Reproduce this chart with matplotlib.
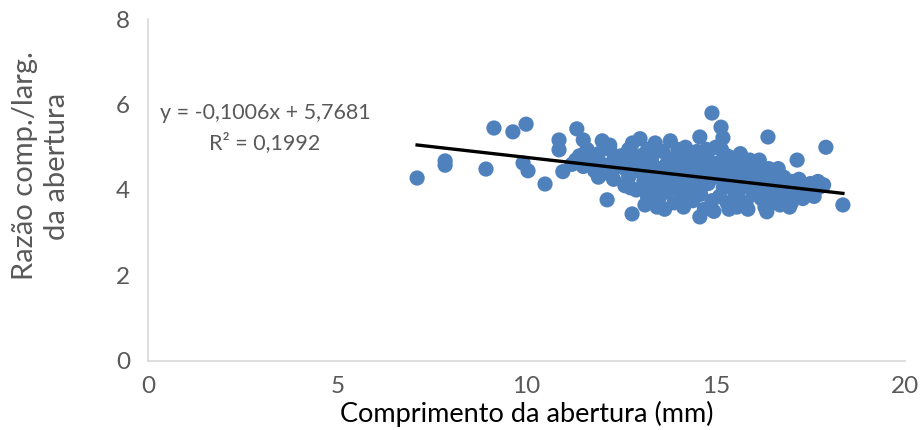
import matplotlib
matplotlib.use('Agg')
import matplotlib.pyplot as plt
import numpy as np

# Comprimento da abertura (mm) vs razao comp./larg.
x_vals = [7.11, 7.85, 7.85, 8.93, 9.14, 9.64, 9.99, 9.91, 10.04, 10.49, 10.86, 10.86,
          10.96, 11.33, 11.5, 12.13, 12.79, 13.13, 13.2, 14.9, 15.14, 15.19, 14.58, 16.38,
          17.91, 17.15, 18.36, 14.58, 16.35, 15.56, 17.75, 17.4,
          11.2, 11.4, 11.5, 11.6, 11.7, 11.8, 11.3,
          11.9, 12.0, 12.0, 12.1, 12.2, 12.3, 12.3, 12.4, 12.5, 12.2, 11.9,
          12.6, 12.6, 12.7, 12.7, 12.8, 12.8, 12.9, 12.9, 13.0, 13.0, 12.75,
          13.1, 13.1, 13.2, 13.2, 13.3, 13.3, 13.4, 13.4, 13.5, 13.5, 13.35, 13.45,
          13.6, 13.6, 13.7, 13.7, 13.8, 13.8, 13.9, 13.9, 14.0, 14.0, 13.65, 13.85, 13.95,
          14.1, 14.1, 14.2, 14.2, 14.3, 14.3, 14.4, 14.4, 14.5, 14.5, 14.15, 14.35, 14.45,
          14.6, 14.6, 14.7, 14.7, 14.8, 14.8, 14.9, 14.9, 15.0, 15.0, 14.65, 14.85, 14.95, 14.75,
          15.1, 15.1, 15.2, 15.2, 15.3, 15.3, 15.4, 15.4, 15.5, 15.5, 15.15, 15.35, 15.45, 15.25,
          15.6, 15.6, 15.7, 15.7, 15.8, 15.8, 15.9, 15.9, 16.0, 16.0, 15.65, 15.85, 15.95,
          16.1, 16.1, 16.2, 16.2, 16.3, 16.3, 16.4, 16.4, 16.5, 16.5, 16.15, 16.45,
          16.6, 16.6, 16.7, 16.7, 16.8, 16.8, 16.9, 16.9, 17.0, 16.65, 16.95,
          17.1, 17.1, 17.2, 17.3, 17.3, 17.5, 17.6, 17.7, 17.0, 17.85]
y_vals = [4.28, 4.68, 4.58, 4.49, 5.45, 5.36, 5.54, 4.63, 4.45, 4.14, 5.17, 4.94,
          4.43, 5.43, 5.17, 3.77, 3.44, 3.65, 3.84, 5.80, 5.47, 5.22, 5.24, 5.24,
          5.0, 4.70, 3.65, 3.37, 3.49, 3.6, 4.07, 3.88,
          4.6, 4.8, 4.55, 4.95, 4.7, 4.45, 4.7,
          4.85, 5.15, 4.6, 4.4, 4.95, 4.7, 4.25, 4.55, 4.8, 5.05, 4.3,
          4.1, 4.5, 4.95, 4.3, 5.1, 4.65, 4.0, 4.45, 5.2, 4.8, 4.05,
          4.55, 4.2, 4.95, 3.95, 4.7, 4.35, 5.1, 4.1, 4.5, 3.8, 4.85, 3.6,
          4.9, 4.25, 4.6, 3.95, 5.15, 4.4, 4.75, 3.7, 4.2, 4.95, 3.55, 4.05, 4.5,
          4.65, 3.9, 4.35, 5.0, 4.1, 4.8, 3.75, 4.5, 4.25, 4.9, 3.6, 4.6, 4.0,
          4.7, 3.9, 4.45, 3.55, 4.15, 4.9, 3.75, 4.55, 4.3, 5.0, 4.1, 4.65, 3.5, 4.95,
          4.65, 3.85, 4.4, 4.05, 4.8, 3.7, 4.2, 4.6, 3.95, 4.45, 4.95, 3.55, 4.75, 4.25,
          4.3, 3.8, 4.6, 4.05, 3.7, 4.4, 4.15, 4.7, 3.9, 4.35, 4.85, 3.55, 4.5,
          4.6, 4.1, 3.8, 4.4, 4.25, 3.6, 4.5, 3.95, 4.2, 3.7, 4.7, 4.35,
          4.4, 3.85, 4.1, 3.65, 4.3, 3.95, 4.05, 3.75, 4.2, 4.5, 3.6,
          3.9, 4.15, 4.25, 3.8, 4.05, 4.15, 3.85, 4.2, 3.7, 4.12]

slope = -0.1006
intercept = 5.7681
r2 = 0.1992

x_ticks = [0, 5, 10, 15, 20]
y_ticks = [0, 2, 4, 6, 8]

grey = '#595959'
font = 'Lato'

fig = plt.figure(figsize=(9.21, 4.30), dpi=100)
ax = fig.add_axes([0.1607, 0.1605, 0.8219, 0.7953])

ax.scatter(x_vals, y_vals, s=120, color='#4F81BD', edgecolors='none', zorder=2)

# linear trendline over the data range
xl = np.array([min(x_vals), max(x_vals)])
ax.plot(xl, slope * xl + intercept, color='black', lw=2.4, zorder=3)

eq = 'y = {:.4f}x + {:.4f}'.format(slope, intercept).replace('.', ',')
ax.text(3.09, 5.8, eq, ha='center', va='center', fontsize=15.5, color=grey, family=font)
ax.text(3.09, 5.1, 'R² = ' + '{:.4f}'.format(r2).replace('.', ','), ha='center', va='center',
        fontsize=15.5, color=grey, family=font)

ax.set_xlim(0, 20)
ax.set_ylim(0, 8)
ax.set_xticks(x_ticks)
ax.set_yticks(y_ticks)
ax.tick_params(length=0, labelsize=17.5, labelcolor=grey)
ax.tick_params(axis='y', pad=13)
ax.tick_params(axis='x', pad=11)
for lab in ax.get_xticklabels() + ax.get_yticklabels():
    lab.set_family(font)

for side in ['top', 'right']:
    ax.spines[side].set_visible(False)
for side in ['left', 'bottom']:
    ax.spines[side].set_color('#D9D9D9')
    ax.spines[side].set_linewidth(1.2)

ax.set_xlabel('Comprimento da abertura (mm)', fontsize=19.5, color='black', family=font,
              va='center')
ax.xaxis.set_label_coords(0.5, -0.155)
ax.set_ylabel('Razão comp./larg.\nda abertura', fontsize=21, color=grey, family=font,
              linespacing=1.3, va='center')
ax.yaxis.set_label_coords(-0.141, 0.57)

plt.savefig('out.png', dpi=100)
